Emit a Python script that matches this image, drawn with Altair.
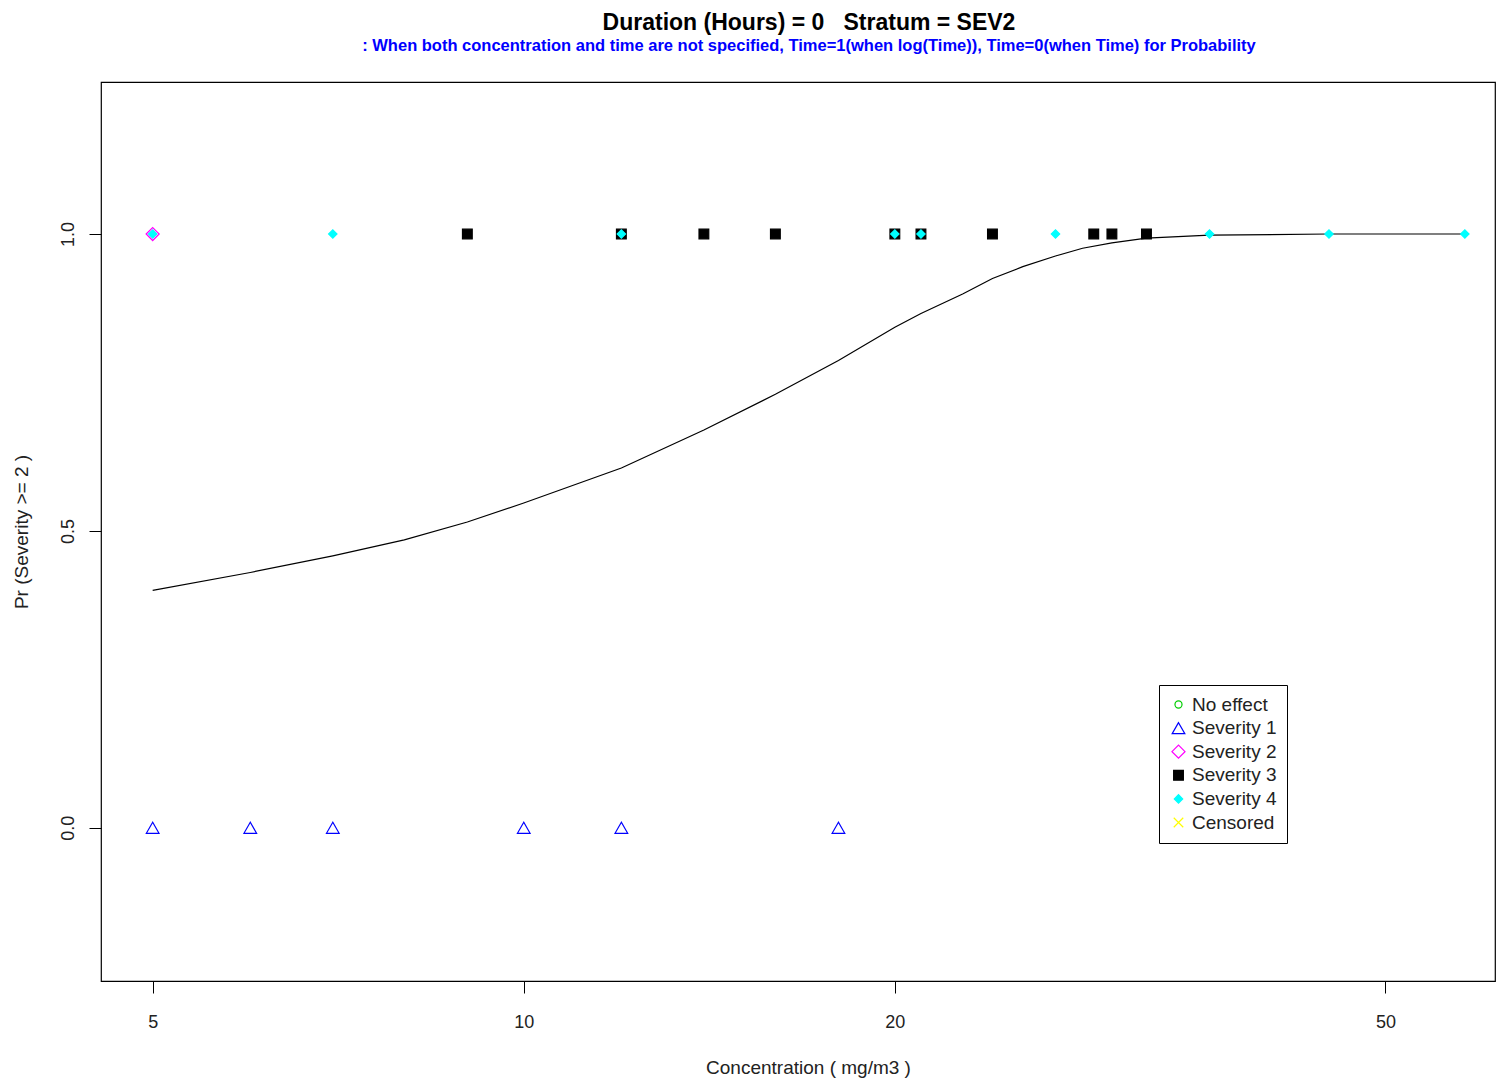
import altair as alt
import pandas as pd

# Observed points
pt_conc = [5, 7, 12, 20, 21, 27, 36, 45, 58,            # Severity 4
           9, 12, 14, 16, 20, 21, 24, 29, 30, 32,       # Severity 3
           5,                                           # Severity 2
           5, 6, 7, 10, 12, 18]                         # Severity 1
pt_prob = [1, 1, 1, 1, 1, 1, 1, 1, 1,
           1, 1, 1, 1, 1, 1, 1, 1, 1, 1,
           1,
           0, 0, 0, 0, 0, 0]
pt_sev = (["Severity 4"] * 9 + ["Severity 3"] * 10 + ["Severity 2"] * 1
          + ["Severity 1"] * 6)
pt_order = [4] * 9 + [3] * 10 + [2] * 1 + [1] * 6

# Fitted curve
curve_conc = [5, 6, 7, 8, 9, 10, 12, 14, 16, 18, 20, 21, 22.7, 24, 25.4, 27,
              28.4, 30, 32, 36, 45, 58]
curve_prob = [0.40, 0.43, 0.458, 0.485, 0.515, 0.547, 0.606, 0.67, 0.73, 0.787,
              0.843, 0.866, 0.899, 0.925, 0.945, 0.963, 0.976, 0.985, 0.993,
              0.998, 1.0, 1.0]

cats = ["No effect", "Severity 1", "Severity 2", "Severity 3", "Severity 4", "Censored"]
stroke_cols = ["#00cd00", "#0000ff", "#ff00ff", "#000000", "#00ffff", "#ffff00"]
fill_cols = ["transparent", "transparent", "transparent", "#000000", "#00ffff", "transparent"]
shapes = ["circle", "triangle-up", "diamond", "square", "diamond",
          "M-1,-1L1,1M-1,1L1,-1"]
sizes = [50, 160, 170, 95, 70, 90]

pts = pd.DataFrame({"conc": pt_conc, "prob": pt_prob, "sev": pt_sev, "ord": pt_order})
pts = pts.sort_values("ord", kind="stable")
curve = pd.DataFrame({"conc": curve_conc, "prob": curve_prob})

xscale = alt.Scale(type="log", domain=[4.54, 61.36], nice=False)
yscale = alt.Scale(domain=[-0.258, 1.256], nice=False, zero=False)

xaxis = alt.Axis(values=[5, 10, 20, 50], format="d", title="Concentration ( mg/m3 )",
                 grid=False, domain=False, tickSize=12, tickColor="#000",
                 labelFontSize=18, labelPadding=20, labelColor="#222",
                 labelFont="Liberation Sans", titleFont="Liberation Sans",
                 titleFontSize=19, titleFontWeight="normal", titleColor="#222",
                 titlePadding=27, titleX=707, titleAlign="center")
yaxis = alt.Axis(values=[0, 0.5, 1.0], format=".1f", title="Pr (Severity >= 2 )",
                 grid=False, domain=False, tickSize=12, tickColor="#000",
                 labelFontSize=18, labelPadding=12, labelColor="#222", labelAngle=270,
                 labelFont="Liberation Sans", titleFont="Liberation Sans",
                 titleFontSize=19, titleFontWeight="normal", titleColor="#222",
                 titlePadding=28)

line = alt.Chart(curve).mark_line(color="black", strokeWidth=1.2).encode(
    x=alt.X("conc:Q", scale=xscale, axis=xaxis),
    y=alt.Y("prob:Q", scale=yscale, axis=yaxis),
)

legend = alt.Legend(title=None, orient="none", legendX=1058, legendY=603,
                    strokeColor="black", fillColor="white", padding=10,
                    labelFontSize=19, labelFont="Liberation Sans", labelColor="#222",
                    rowPadding=3.6, labelOffset=4, symbolStrokeWidth=1.2,
                    cornerRadius=0)

points = alt.Chart(pts).mark_point(strokeWidth=1.2, opacity=1).encode(
    x=alt.X("conc:Q", scale=xscale),
    y=alt.Y("prob:Q", scale=yscale),
    stroke=alt.Stroke("sev:N", scale=alt.Scale(domain=cats, range=stroke_cols), legend=legend),
    fill=alt.Fill("sev:N", scale=alt.Scale(domain=cats, range=fill_cols), legend=legend),
    shape=alt.Shape("sev:N", scale=alt.Scale(domain=cats, range=shapes), legend=legend),
    size=alt.Size("sev:N", scale=alt.Scale(type="ordinal", domain=cats, range=sizes),
                  legend=legend),
    order=alt.Order("ord:Q"),
)

chart = alt.layer(line, points).properties(
    width=1394, height=899,
    background="white",
    autosize=alt.AutoSizeParams(type="none"),
    padding={"left": 93, "top": 74, "right": 1, "bottom": 97},
    title=alt.Title(
        text="Duration (Hours) = 0\u00a0\u00a0\u00a0Stratum = SEV2",
        subtitle=": When both concentration and time are not specified, Time=1(when log(Time)), Time=0(when Time) for Probability",
        anchor="middle", dx=11, offset=28,
        font="Liberation Sans", fontSize=23, fontWeight="bold", color="#000",
        subtitleFont="Liberation Sans", subtitleFontSize=16.5, subtitleFontWeight="bold",
        subtitleColor="#0000ff", subtitlePadding=3,
    ),
).configure_view(stroke="black", strokeWidth=1.2)

chart.save("out.html", embed_options={"renderer": "svg", "actions": False})
